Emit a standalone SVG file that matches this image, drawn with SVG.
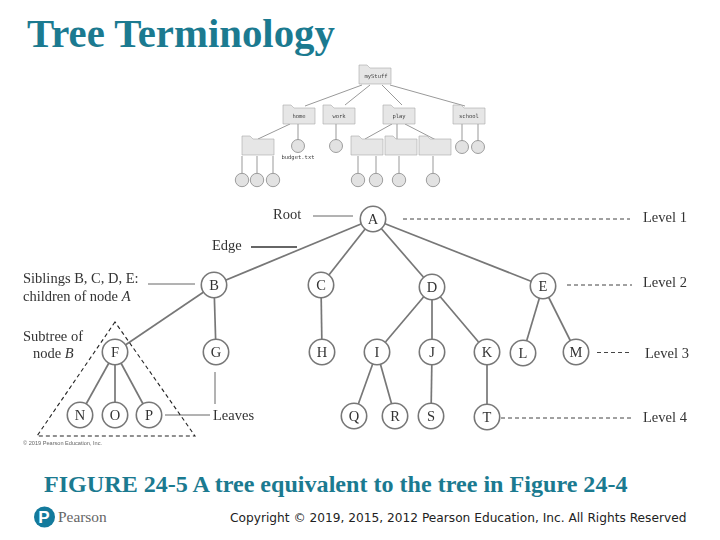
<svg xmlns="http://www.w3.org/2000/svg" width="720" height="540" viewBox="0 0 720 540">
<defs>
<filter id="soft" x="-5%" y="-5%" width="110%" height="110%"><feGaussianBlur stdDeviation="0.35"/></filter>
<filter id="soft2" x="-5%" y="-5%" width="110%" height="110%"><feGaussianBlur stdDeviation="0.55"/></filter>
<path id="fold" d="M0 19V0H8L11 3H32V19Z"/>
</defs>
<style>
.title{font-family:"Liberation Serif",serif;font-weight:bold;fill:#1b7a90}
.lab{font-family:"Liberation Serif",serif;font-size:14.5px;fill:#333}
.nl{font-family:"Liberation Serif",serif;font-size:14.5px;fill:#333;text-anchor:middle}
.n circle{fill:#fff;stroke:#777;stroke-width:1.6}
.e line{stroke:#777;stroke-width:1.7}
.g line{stroke:#666;stroke-width:1}
.d line{stroke:#444;stroke-width:1;stroke-dasharray:4 3}
.se line{stroke:#999;stroke-width:1}
.sn use{fill:#e6e6e6;stroke:#aaa;stroke-width:.6}
.sn circle{fill:#e2e2e2;stroke:#888;stroke-width:.8}
.st{font-family:"DejaVu Sans Mono",monospace;font-size:5.5px;fill:#444;text-anchor:middle}
</style>
<rect width="720" height="540" fill="#fff"/>
<text class="title" x="27" y="47" font-size="40.800">Tree Terminology</text>
<g id="small-tree" filter="url(#soft2)">
<g id="small-edges" class="se">
<line x1="362" y1="85" x2="305" y2="106"/><line x1="370" y1="85" x2="345" y2="105"/><line x1="382" y1="85" x2="402" y2="105"/><line x1="390" y1="85" x2="465" y2="106"/>
<line x1="290" y1="124" x2="258" y2="139"/><line x1="298" y1="124" x2="298" y2="140"/><line x1="336" y1="124" x2="336" y2="140"/>
<line x1="392" y1="124" x2="365" y2="139"/><line x1="397" y1="124" x2="397" y2="139"/><line x1="405" y1="124" x2="436" y2="140"/>
<line x1="462" y1="124" x2="462" y2="141"/><line x1="478" y1="124" x2="478" y2="141"/>
<line x1="242" y1="156" x2="242" y2="174"/><line x1="257" y1="156" x2="257" y2="174"/><line x1="273" y1="156" x2="273" y2="174"/>
<line x1="358" y1="156" x2="358" y2="174"/><line x1="376" y1="156" x2="376" y2="174"/><line x1="399" y1="156" x2="399" y2="174"/><line x1="433" y1="156" x2="433" y2="174"/>
</g>
<g class="sn">
<g id="f-mystuff"><use href="#fold" x="359" y="65"/><text class="st" x="376" y="78">myStuff</text></g>
<g id="f-home"><use href="#fold" x="283" y="105"/><text class="st" x="299" y="118">home</text></g>
<g id="f-work"><use href="#fold" x="323" y="105"/><text class="st" x="339" y="118">work</text></g>
<g id="f-play"><use href="#fold" x="383" y="105"/><text class="st" x="399" y="118">play</text></g>
<g id="f-school"><use href="#fold" x="453" y="105"/><text class="st" x="469" y="118">school</text></g>
<g id="f-a"><use href="#fold" x="242" y="136"/></g>
<g id="f-b"><use href="#fold" x="351" y="136"/></g>
<g id="f-c"><use href="#fold" x="385" y="136"/></g>
<g id="f-d"><use href="#fold" x="419" y="136"/></g>
<g id="c-budget"><circle cx="298" cy="146" r="6.5"/><text class="st" x="298" y="159">budget.txt</text></g>
<circle cx="336" cy="146" r="6.5"/><circle cx="462" cy="147" r="6.5"/><circle cx="478" cy="147" r="6.5"/>
<circle cx="242" cy="180" r="6.7"/><circle cx="257" cy="180" r="6.7"/><circle cx="273" cy="180" r="6.7"/>
<circle cx="358" cy="180" r="6.7"/><circle cx="376" cy="180" r="6.7"/><circle cx="399" cy="180" r="6.7"/><circle cx="433" cy="180" r="6.7"/>
</g>
</g>
<g id="main-tree" filter="url(#soft)">
<g id="connectors">
<g class="e">
<line x1="373" y1="219" x2="214" y2="285"/><line x1="373" y1="219" x2="321" y2="285"/><line x1="373" y1="219" x2="432" y2="287"/><line x1="373" y1="219" x2="543" y2="286"/>
<line x1="214" y1="285" x2="115" y2="352"/><line x1="214" y1="285" x2="216" y2="352"/><line x1="321" y1="285" x2="322" y2="352"/>
<line x1="432" y1="287" x2="377" y2="352"/><line x1="432" y1="287" x2="432" y2="352"/><line x1="432" y1="287" x2="487" y2="352"/>
<line x1="543" y1="286" x2="523" y2="353"/><line x1="543" y1="286" x2="576" y2="352"/>
<line x1="115" y1="352" x2="80" y2="415"/><line x1="115" y1="352" x2="115" y2="415"/><line x1="115" y1="352" x2="149" y2="415"/>
<line x1="377" y1="352" x2="354" y2="416"/><line x1="377" y1="352" x2="395" y2="416"/><line x1="432" y1="352" x2="431" y2="416"/><line x1="487" y1="352" x2="487" y2="417"/>
</g>
<g class="g">
<line x1="313" y1="216" x2="353" y2="216"/>
<line x1="251" y1="247" x2="297" y2="247" style="stroke-width:2"/>
<line x1="148" y1="284" x2="195" y2="284"/>
<line x1="215" y1="372" x2="215" y2="404"/>
<line x1="165" y1="415" x2="210" y2="415"/>
</g>
<g class="d">
<path d="M115 322L37 436H195Z" fill="none" stroke="#222" stroke-width="1.1" stroke-dasharray="4 3"/>
<line x1="403" y1="219" x2="630" y2="219"/>
<line x1="567" y1="285" x2="632" y2="285"/>
<line x1="597" y1="352.500" x2="631" y2="352.500"/>
<line x1="501" y1="418" x2="632" y2="418"/>
</g>
</g>
<g class="n">
<g id="A"><circle cx="373" cy="219" r="12.700"/><text class="nl" x="373" y="224">A</text></g>
<g id="B"><circle cx="214" cy="285" r="12.700"/><text class="nl" x="214" y="290">B</text></g>
<g id="C"><circle cx="321" cy="285" r="12.700"/><text class="nl" x="321" y="290">C</text></g>
<g id="D"><circle cx="432" cy="287" r="12.700"/><text class="nl" x="432" y="292">D</text></g>
<g id="E"><circle cx="543" cy="286" r="12.700"/><text class="nl" x="543" y="291">E</text></g>
<g id="F"><circle cx="115" cy="352" r="12.700"/><text class="nl" x="115" y="357">F</text></g>
<g id="G"><circle cx="216" cy="352" r="12.700"/><text class="nl" x="216" y="357">G</text></g>
<g id="H"><circle cx="322" cy="352" r="12.700"/><text class="nl" x="322" y="357">H</text></g>
<g id="I"><circle cx="377" cy="352" r="12.700"/><text class="nl" x="377" y="357">I</text></g>
<g id="J"><circle cx="432" cy="352" r="12.700"/><text class="nl" x="432" y="357">J</text></g>
<g id="K"><circle cx="487" cy="352" r="12.700"/><text class="nl" x="487" y="357">K</text></g>
<g id="L"><circle cx="523" cy="353" r="12.700"/><text class="nl" x="523" y="358">L</text></g>
<g id="M"><circle cx="576" cy="352" r="12.700"/><text class="nl" x="576" y="357">M</text></g>
<g id="N"><circle cx="80" cy="415" r="12.700"/><text class="nl" x="80" y="420">N</text></g>
<g id="O"><circle cx="115" cy="415" r="12.700"/><text class="nl" x="115" y="420">O</text></g>
<g id="P"><circle cx="149" cy="415" r="12.700"/><text class="nl" x="149" y="420">P</text></g>
<g id="Q"><circle cx="354" cy="416" r="12.700"/><text class="nl" x="354" y="421">Q</text></g>
<g id="R"><circle cx="395" cy="416" r="12.700"/><text class="nl" x="395" y="421">R</text></g>
<g id="S"><circle cx="431" cy="416" r="12.700"/><text class="nl" x="431" y="421">S</text></g>
<g id="T"><circle cx="487" cy="417" r="12.700"/><text class="nl" x="487" y="422">T</text></g>
</g>
<g id="labels">
<text class="lab" x="273" y="219">Root</text>
<text class="lab" x="212" y="250">Edge</text>
<text class="lab" x="23" y="283">Siblings B, C, D, E:</text>
<text class="lab" x="23" y="301">children of node <tspan font-style="italic">A</tspan></text>
<text class="lab" x="23" y="341">Subtree of</text>
<text class="lab" x="33" y="358">node <tspan font-style="italic">B</tspan></text>
<text class="lab" x="213" y="420">Leaves</text>
<text class="lab" x="643" y="222">Level 1</text>
<text class="lab" x="643" y="287">Level 2</text>
<text class="lab" x="645" y="358">Level 3</text>
<text class="lab" x="643" y="422">Level 4</text>
<text x="23" y="445" font-family="'Liberation Sans',sans-serif" font-size="5.600" fill="#666">© 2019 Pearson Education, Inc.</text>
</g>
</g>
<text class="title" x="44" y="492" font-size="24.100">FIGURE 24-5 A tree equivalent to the tree in Figure 24-4</text>
<g id="pearson-logo">
<circle cx="44.500" cy="517" r="10.500" fill="#137a9c"/>
<text x="44" y="523" font-family="'Liberation Sans',sans-serif" font-weight="bold" font-size="17" fill="#fff" text-anchor="middle">P</text>
<text x="58" y="522" font-family="'Liberation Serif',serif" font-size="15.400" fill="#666">Pearson</text>
</g>
<text x="230" y="522" font-family="'DejaVu Sans',sans-serif" font-size="12.200" fill="#222">Copyright © 2019, 2015, 2012 Pearson Education, Inc. All Rights Reserved</text>
</svg>
